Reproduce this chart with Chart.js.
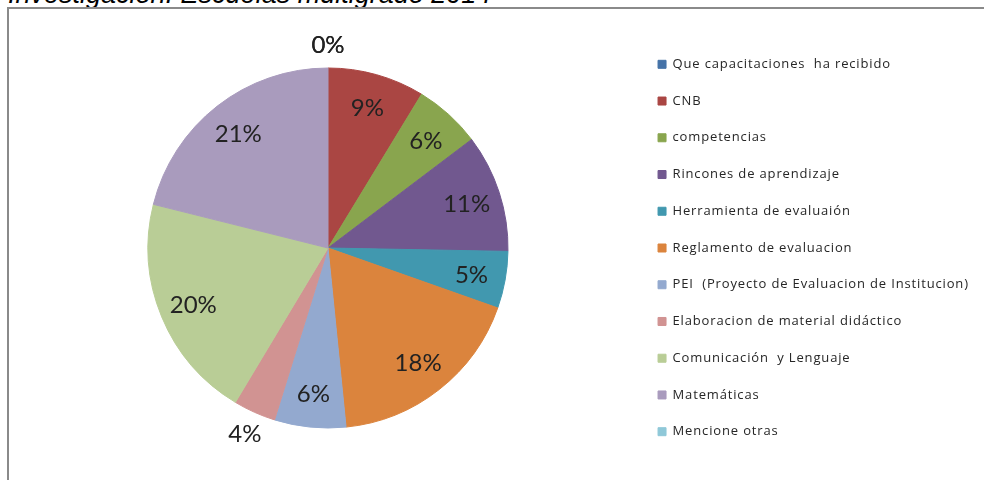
<!DOCTYPE html>
<html>
<head>
<meta charset="utf-8">
<script src="https://cdn.jsdelivr.net/npm/chart.js@4"></script>
<style>
  html, body { margin: 0; padding: 0; background: #fff; overflow: hidden; }
  #wrap { position: relative; width: 984px; height: 480px; overflow: hidden; }
  #title { position: absolute; left: 8px; top: -19px; font: italic 27px "Liberation Sans", Arial, sans-serif; line-height: 27px; color: #000; white-space: pre; }
  #frame { position: absolute; left: 7px; top: 7px; width: 1000px; height: 500px; border: 2px solid #8a8a8a; box-sizing: border-box; }
  #pie { position: absolute; left: 0; top: 0; }
</style>
</head>
<body>
<div id="wrap">
  <div id="title">Investigación. Escuelas multigrado 2014</div>
  <div id="frame"></div>
  <canvas id="pie" width="984" height="480"></canvas>
</div>
<script>
// categorias y porcentajes
var labels = [
    'Que capacitaciones  ha recibido',
    'CNB',
    'competencias',
    'Rincones de aprendizaje',
    'Herramienta de evaluaión',
    'Reglamento de evaluacion',
    'PEI  (Proyecto de Evaluacion de Institucion)',
    'Elaboracion de material didáctico',
    'Comunicación  y Lenguaje',
    'Matemáticas',
    'Mencione otras'
];
var values = [0, 8.7, 6.0, 10.6, 5.1, 18.0, 6.4, 3.8, 20.3, 21.1, 0];
var colors = ['#4572A7', '#AA4643', '#89A54E', '#71588F', '#4198AF', '#DB843D',
    '#93A9CF', '#D19392', '#B9CD96', '#A99BBD', '#8FC8D8'];

// etiquetas de porcentaje sobre cada sector
const pctLabels = {
    id: 'pctLabels',
    afterDatasetsDraw(chart) {
        const ctx = chart.ctx;
        const meta = chart.getDatasetMeta(0);
        const total = values.reduce((a, b) => a + b, 0);
        ctx.save();
        ctx.letterSpacing = '0px';
        ctx.font = '24px Lato';
        ctx.fillStyle = '#222';
        ctx.textAlign = 'center';
        ctx.textBaseline = 'middle';
        meta.data.forEach((arc, i) => {
            const p = arc.getProps(['x', 'y', 'startAngle', 'endAngle', 'outerRadius'], true);
            const mid = (p.startAngle + p.endAngle) / 2;
            const pct = Math.round(values[i] / total * 100);
            const k = values[i] < 4.5 ? 1.13 : 0.81;
            const x = p.x + Math.cos(mid) * p.outerRadius * k;
            const y = p.y + Math.sin(mid) * p.outerRadius * k + 1;
            ctx.fillText(pct + '%', x, y);
        });
        ctx.restore();
    }
};

// ancho fijo de la leyenda y texto algo espaciado
const legendTweak = {
    id: 'legendTweak',
    beforeInit(chart) {
        const lg = chart.legend;
        const fit = lg.fit;
        lg.fit = function () {
            fit.call(this);
            this.width = 349.7;
        };
        const draw = lg.draw;
        lg.draw = function () {
            const c = this.ctx;
            c.save();
            c.letterSpacing = '0.85px';
            draw.apply(this, arguments);
            c.restore();
        };
    }
};

const ctx = document.getElementById('pie').getContext('2d');
new Chart(ctx, {
    type: 'pie',
    data: {
        labels: labels,
        datasets: [{
            data: values,
            backgroundColor: colors,
            borderColor: colors,
            borderWidth: 1,
            radius: 180
        }]
    },
    options: {
        responsive: false,
        animation: false,
        layout: { padding: { left: 21.7, top: 16, right: 0, bottom: 0 } },
        plugins: {
            legend: {
                position: 'right',
                labels: {
                    boxWidth: 8,
                    boxHeight: 8,
                    padding: 23.74,
                    color: '#262626',
                    font: { family: 'Open Sans', size: 13 }
                }
            },
            tooltip: { enabled: false }
        }
    },
    plugins: [pctLabels, legendTweak]
});
</script>
</body>
</html>
